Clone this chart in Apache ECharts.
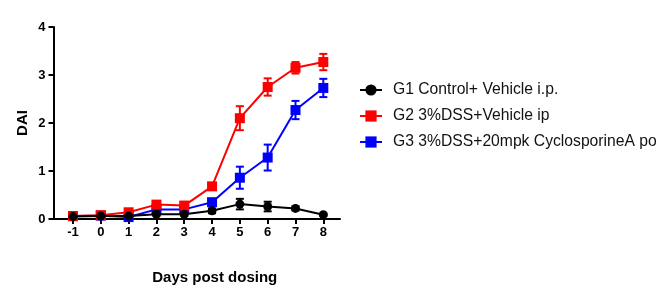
<!DOCTYPE html>
<html>
<head>
<meta charset="utf-8">
<script src="https://cdn.jsdelivr.net/npm/echarts@6/dist/echarts.min.js"></script>
<style>html,body{margin:0;padding:0;background:#fff;}#c{width:671px;height:301px;}</style>
</head>
<body>
<div id="c"></div>
<script>
var days = [-1, 0, 1, 2, 3, 4, 5, 6, 7, 8];
var xTicks = [-1, 0, 1, 2, 3, 4, 5, 6, 7, 8];
var yTicks = [0, 1, 2, 3, 4];
var names = ['G1 Control+ Vehicle i.p.', 'G2 3%DSS+Vehicle ip', 'G3 3%DSS+20mpk CyclosporineA po'];
var g1 = [0.05, 0.06, 0.06, 0.10, 0.10, 0.17, 0.31, 0.26, 0.22, 0.09];
var g1err = [0.02, 0.02, 0.02, 0.03, 0.03, 0.05, 0.11, 0.10, 0.04, 0.02];
var g2 = [0.06, 0.08, 0.14, 0.30, 0.28, 0.68, 2.10, 2.75, 3.15, 3.27];
var g2err = [0.02, 0.03, 0.04, 0.06, 0.05, 0.04, 0.25, 0.18, 0.12, 0.17];
var g3 = [0.06, 0.07, 0.04, 0.20, 0.20, 0.35, 0.86, 1.28, 2.27, 2.73];
var g3err = [0.02, 0.02, 0.02, 0.03, 0.03, 0.04, 0.23, 0.27, 0.19, 0.19];

function pairs(v) { return days.map(function (d, i) { return [d, v[i]]; }); }
function errData(v, e) { return days.map(function (d, i) { return [d, v[i] - e[i], v[i] + e[i]]; }); }
function errSeries(v, e, color, z) {
  return {
    type: 'custom', z: z, silent: true,
    data: errData(v, e),
    encode: { x: 0, y: [1, 2] },
    renderItem: function (params, api) {
      var lo = api.coord([api.value(0), api.value(1)]);
      var hi = api.coord([api.value(0), api.value(2)]);
      var w = 4;
      var st = { stroke: color, lineWidth: 2 };
      return {
        type: 'group',
        children: [
          { type: 'line', shape: { x1: lo[0], y1: lo[1], x2: hi[0], y2: hi[1] }, style: st },
          { type: 'line', shape: { x1: lo[0] - w, y1: lo[1], x2: lo[0] + w, y2: lo[1] }, style: st },
          { type: 'line', shape: { x1: hi[0] - w, y1: hi[1], x2: hi[0] + w, y2: hi[1] }, style: st }
        ]
      };
    }
  };
}
function lineSeries(name, v, color, sym, size, z) {
  return {
    name: name, type: 'line', z: z, data: pairs(v),
    symbol: sym, symbolSize: size,
    lineStyle: { color: color, width: 2 },
    itemStyle: { color: color },
    emphasis: { disabled: true }
  };
}
var chart = echarts.init(document.getElementById('c'), null, { renderer: 'canvas' });
var font = 'Liberation Sans, Arial, sans-serif';
chart.setOption({
  animation: false,
  backgroundColor: '#fff',
  grid: { left: 53.5, top: 27, width: 286.5, height: 192 },
  legend: {
    orient: 'vertical', left: 354, top: 77, itemGap: 10,
    itemWidth: 22, itemHeight: 14,
    data: names,
    textStyle: { fontFamily: font, fontSize: 15.7, color: '#111', padding: [0, 0, 0, 6] }
  },
  xAxis: {
    type: 'value', min: -1.7, max: 8.6,
    name: 'Days post dosing', nameLocation: 'middle', nameGap: 51,
    nameTextStyle: { fontFamily: font, fontSize: 15, fontWeight: 'bold', color: '#000', padding: [0, 0, 0, 36] },
    axisLine: { show: true, onZero: false, lineStyle: { color: '#000', width: 2 } },
    axisTick: { show: true, customValues: xTicks, length: 5, lineStyle: { color: '#000', width: 2 } },
    axisLabel: { customValues: xTicks, fontFamily: font, fontSize: 13, fontWeight: 'bold', color: '#000', margin: 7 },
    splitLine: { show: false }
  },
  yAxis: {
    type: 'value', min: 0, max: 4, interval: 1,
    name: 'DAI', nameLocation: 'middle', nameGap: 23, nameRotate: 90,
    nameTextStyle: { fontFamily: font, fontSize: 15, fontWeight: 'bold', color: '#000' },
    axisLine: { show: true, onZero: false, lineStyle: { color: '#000', width: 2 } },
    axisTick: { show: true, length: 5, lineStyle: { color: '#000', width: 2 } },
    axisLabel: { fontFamily: font, fontSize: 13, fontWeight: 'bold', color: '#000', margin: 8 },
    splitLine: { show: false }
  },
  series: [
    errSeries(g3, g3err, '#0000ff', 2),
    lineSeries(names[2], g3, '#0000ff', 'rect', 10, 3),
    errSeries(g2, g2err, '#ff0000', 4),
    lineSeries(names[1], g2, '#ff0000', 'rect', 10, 5),
    errSeries(g1, g1err, '#000000', 6),
    lineSeries(names[0], g1, '#000000', 'circle', 9, 7)
  ]
});
</script>
</body>
</html>
